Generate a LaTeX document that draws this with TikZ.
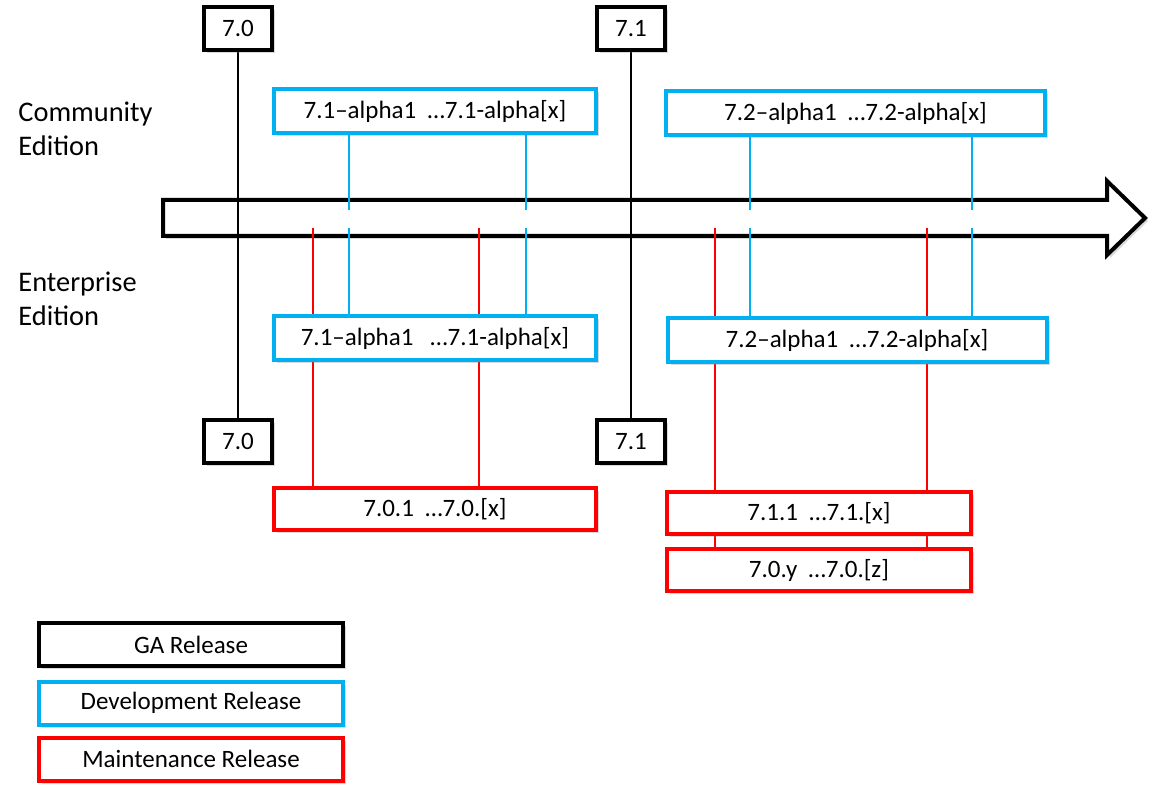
\documentclass[tikz,border=0pt]{standalone}
\usepackage{fontspec}
\setmainfont{Carlito}
\usepackage{tikz}
\usetikzlibrary{shadows,backgrounds}

\definecolor{devblue}{RGB}{0,176,240}
\definecolor{mtred}{RGB}{255,0,0}

\tikzset{
  relbox/.style={draw, line width=2pt, fill=white, inner sep=0pt,
    font=\fontsize{12.5}{15}\selectfont,
    drop shadow={shadow xshift=1.5pt, shadow yshift=-1.5pt, opacity=0.3}},
  gabox/.style={relbox, draw=black, minimum width=34pt, minimum height=21.5pt},
  devbox/.style={relbox, draw=devblue, minimum height=22pt},
  mtbox/.style={relbox, draw=mtred, minimum height=21pt},
  edlabel/.style={align=left, inner sep=0pt, anchor=base west,
    font=\fontsize{14.2}{17.2}\selectfont},
  thin/.style={line width=1pt}
}

\begin{document}
\begin{tikzpicture}[x=0.5pt, y=-0.5pt]
  \useasboundingbox (0,0) rectangle (1160,790);

  \node[edlabel] (ced) at (18,156) {Community\\Edition};
  \node[edlabel] (eed) at (18,326) {Enterprise\\Edition};

  \node[gabox] (ga70t) at (238,28.5) {7.0};
  \node[gabox] (ga71t) at (631,28.5) {7.1};
  \node[gabox] (ga70b) at (238,441.5) {7.0};
  \node[gabox] (ga71b) at (631,441.5) {7.1};

  \node[devbox, minimum width=161pt] (ce71) at (435,111) {7.1–alpha1~~…7.1-alpha[x]};
  \node[devbox, minimum width=189.5pt] (ce72) at (855.5,113) {7.2–alpha1~~…7.2-alpha[x]};
  \node[devbox, minimum width=161pt] (ee71) at (435,338.5) {7.1–alpha1~~~…7.1-alpha[x]};
  \node[devbox, minimum width=189.5pt] (ee72) at (857,340.5) {7.2–alpha1~~…7.2-alpha[x]};

  \node[mtbox, minimum width=161pt] (mt70) at (435,509) {7.0.1~~…7.0.[x]};
  \node[mtbox, minimum width=152pt] (mt71) at (819,513) {7.1.1~~…7.1.[x]};
  \node[mtbox, minimum width=152pt] (mt70y) at (819,570) {7.0.y~~…7.0.[z]};

  \node[gabox, minimum width=152pt] (lgga) at (191,644.5) {GA Release};
  \node[devbox, minimum width=152pt, minimum height=21.5pt] (lgdev) at (191,703) {Development Release};
  \node[mtbox, minimum width=152pt, minimum height=21.5pt] (lgmt) at (191,759) {Maintenance Release};

  \begin{scope}[on background layer]
    \draw[line width=2pt, fill=white,
      drop shadow={shadow xshift=1.5pt, shadow yshift=-1.5pt, opacity=0.3}]
      (163,200) -- (1107,200) -- (1107,181) -- (1145,218)
      -- (1107,255) -- (1107,236) -- (163,236) -- cycle;

    \draw[thin] (ga70t) -- (ga70b);
    \draw[thin] (ga71t) -- (ga71b);

    \foreach \x/\a/\b in {349/ce71/ee71, 526/ce71/ee71, 750/ce72/ee72, 972/ce72/ee72}{
      \coordinate (gt\x) at (\x,210);
      \coordinate (gb\x) at (\x,228);
      \draw[thin, devblue] (\a.south -| gt\x) -- (gt\x);
      \draw[thin, devblue] (gb\x) -- (\b.north -| gb\x);
    }

    \foreach \x/\b in {313/mt70, 479/mt70, 715/mt70y, 927/mt70y}{
      \coordinate (rt\x) at (\x,228);
      \draw[thin, mtred] (rt\x) -- (\b.north -| rt\x);
    }
  \end{scope}
\end{tikzpicture}
\end{document}
